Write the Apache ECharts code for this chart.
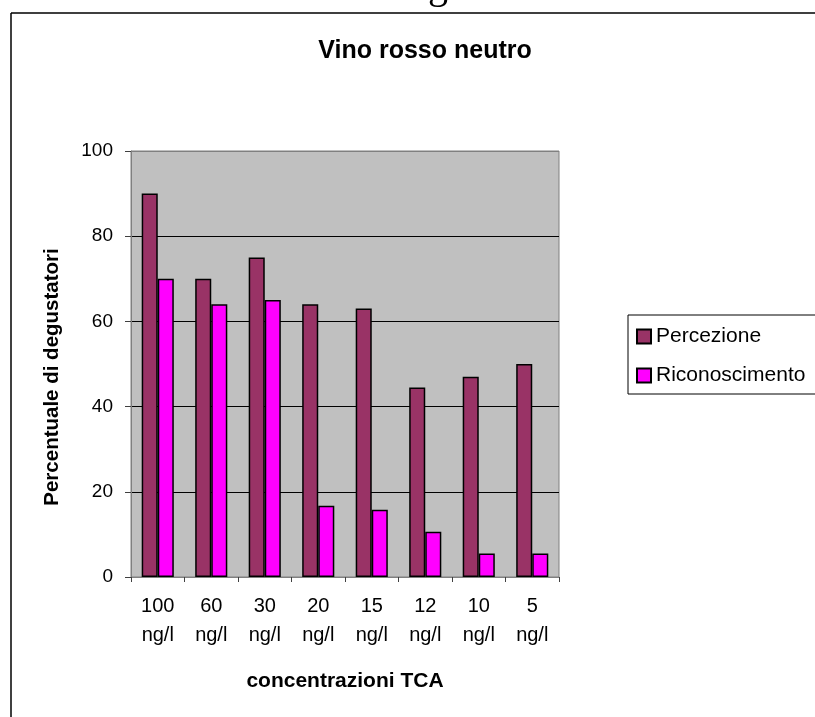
<!DOCTYPE html>
<html>
<head>
<meta charset="utf-8">
<script src="https://cdn.jsdelivr.net/npm/echarts@6/dist/echarts.min.js"></script>
<style>
html,body{margin:0;padding:0;background:#fff;}
#chart{width:815px;height:717px;}
</style>
</head>
<body>
<div id="chart"></div>
<script>
// ---- data ----
var categories = ['100\nng/l', '60\nng/l', '30\nng/l', '20\nng/l', '15\nng/l', '12\nng/l', '10\nng/l', '5\nng/l'];
var percezione = [90, 70, 75, 64, 63, 44.5, 47, 50];
var riconoscimento = [70, 64, 65, 16.7, 15.8, 10.6, 5.5, 5.5];
var seriesNames = ['Percezione', 'Riconoscimento'];
var yTicks = [0, 20, 40, 60, 80, 100];
var titleText = 'Vino rosso neutro';
var xTitle = 'concentrazioni TCA';
var yTitle = 'Percentuale di degustatori';

var FONT = 'Liberation Sans, Arial, sans-serif';
var chart = echarts.init(document.getElementById('chart'), null, {renderer: 'canvas'});
chart.setOption({
  backgroundColor: '#ffffff',
  animation: false,
  title: {
    text: titleText,
    left: 420, top: 34, textAlign: 'center',
    textStyle: {fontFamily: FONT, fontSize: 25, fontWeight: 'bold', color: '#000'}
  },
  graphic: [
    {type: 'text', left: 428, top: -33, style: {text: 'g', font: '40px "Liberation Serif", serif', fill: '#000'}},
    {type: 'line', shape: {x1: 11, y1: 13, x2: 815, y2: 13}, style: {stroke: '#3f3f3f', lineWidth: 2}},
    {type: 'line', shape: {x1: 11, y1: 13, x2: 11, y2: 717}, style: {stroke: '#000', lineWidth: 1.5}},
    {type: 'text', x: 52, y: 377, rotation: Math.PI / 2,
      style: {text: yTitle, font: 'bold 20.5px ' + FONT, fill: '#000', align: 'center', verticalAlign: 'middle'}}
  ],
  legend: {
    orient: 'vertical',
    left: 628, top: 315,
    padding: [11, 12, 8, 8],
    itemWidth: 14, itemHeight: 14, itemGap: 18,
    borderColor: '#000', borderWidth: 1,
    icon: 'rect',
    textStyle: {fontFamily: FONT, fontSize: 21, color: '#000', lineHeight: 20},
    data: seriesNames
  },
  grid: {
    left: 131, right: 256, top: 151, bottom: 140,
    show: true, backgroundColor: '#C0C0C0', borderColor: '#808080', borderWidth: 1,
    containLabel: false
  },
  xAxis: {
    type: 'category',
    data: categories,
    boundaryGap: true,
    name: xTitle,
    nameLocation: 'middle',
    nameGap: 94,
    nameTextStyle: {fontFamily: FONT, fontSize: 21, fontWeight: 'bold', color: '#000', verticalAlign: 'top'},
    axisLine: {show: true, lineStyle: {color: '#808080', width: 1}},
    axisTick: {show: true, alignWithLabel: false, length: 5, lineStyle: {color: '#404040'}},
    axisLabel: {fontFamily: FONT, fontSize: 20, color: '#000', lineHeight: 29, margin: 15, interval: 0},
    splitLine: {show: false}
  },
  yAxis: {
    type: 'value',
    min: 0, max: 100, interval: 20,
    axisLine: {show: true, lineStyle: {color: '#808080', width: 1}},
    axisTick: {show: true, length: 6, lineStyle: {color: '#404040'}},
    axisLabel: {fontFamily: FONT, fontSize: 19, color: '#000', margin: 18,
      formatter: function (v) { return yTicks.indexOf(v) >= 0 ? String(v) : ''; }},
    splitLine: {show: true, lineStyle: {color: ['#808080', '#000', '#000', '#000', '#000', '#808080'], width: 1}}
  },
  series: [
    {
      name: seriesNames[0], type: 'bar', data: percezione,
      barGap: '0%', barCategoryGap: '40%',
      itemStyle: {color: '#993366', borderColor: '#000', borderWidth: 1.5}
    },
    {
      name: seriesNames[1], type: 'bar', data: riconoscimento,
      barGap: '0%', barCategoryGap: '40%',
      itemStyle: {color: '#FF00FF', borderColor: '#000', borderWidth: 1.5}
    }
  ]
});
</script>
</body>
</html>
